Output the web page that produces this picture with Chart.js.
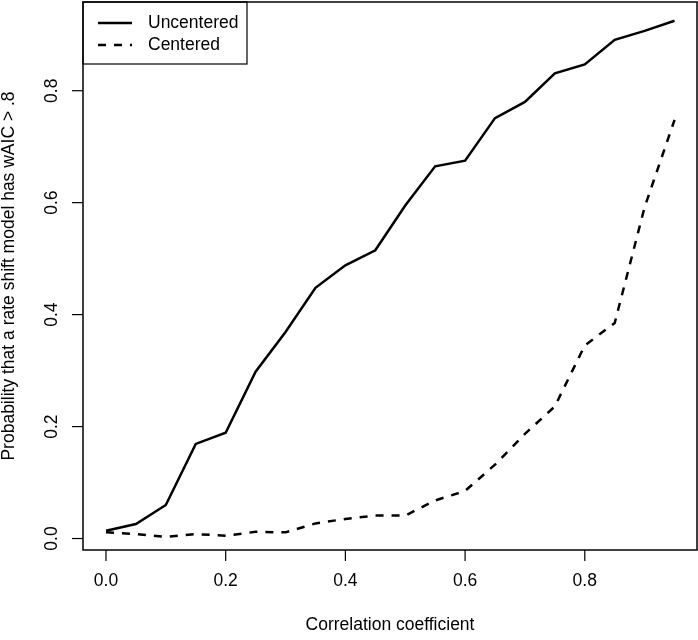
<!DOCTYPE html>
<html>
<head>
<meta charset="utf-8">
<script src="https://cdn.jsdelivr.net/npm/chart.js@4/dist/chart.umd.min.js"></script>
<style>
  html, body { margin: 0; padding: 0; background: #fff; }
  #wrap { width: 698px; height: 640px; position: relative; }
</style>
</head>
<body>
<div id="wrap"><canvas id="chart"></canvas></div>
<script>
(() => {
  'use strict';

  // Correlation coefficient (x) and the two probability series
  const corr = [0.00, 0.05, 0.10, 0.15, 0.20, 0.25, 0.30, 0.35, 0.40, 0.45,
                0.50, 0.55, 0.60, 0.65, 0.70, 0.75, 0.80, 0.85, 0.90, 0.95];
  const uncentered = [0.014, 0.026, 0.060, 0.169, 0.189, 0.298, 0.369, 0.448, 0.488, 0.515,
                      0.595, 0.665, 0.675, 0.751, 0.780, 0.831, 0.847, 0.891, 0.907, 0.925];
  const centered   = [0.011, 0.008, 0.003, 0.008, 0.005, 0.012, 0.011, 0.027, 0.035, 0.041,
                      0.041, 0.068, 0.085, 0.132, 0.187, 0.236, 0.345, 0.385, 0.592, 0.748];

  const xTicks = [0, 0.2, 0.4, 0.6, 0.8];
  const yTicks = [0, 0.2, 0.4, 0.6, 0.8];
  const seriesNames = ['Uncentered', 'Centered'];

  const FONT = '17.5px "Liberation Sans", Arial, Helvetica, sans-serif';

  const toPts = (ys) => corr.map((x, i) => ({ x, y: ys[i] }));

  // R-style frame, ticks, labels and legend
  const rAxes = {
    id: 'rAxes',
    afterDraw(chart) {
      const { ctx, chartArea: a, scales: { x, y } } = chart;
      ctx.save();
      ctx.strokeStyle = '#000';
      ctx.fillStyle = '#000';
      ctx.font = FONT;

      // box
      ctx.lineWidth = 1.5;
      ctx.strokeRect(a.left, a.top, a.right - a.left, a.bottom - a.top);

      // x ticks
      ctx.lineWidth = 1.2;
      ctx.textAlign = 'center';
      ctx.textBaseline = 'middle';
      xTicks.forEach(v => {
        const px = x.getPixelForValue(v);
        ctx.beginPath();
        ctx.moveTo(px, a.bottom);
        ctx.lineTo(px, a.bottom + 11);
        ctx.stroke();
        ctx.fillText(v.toFixed(1), px, a.bottom + 31);
      });

      // y ticks (labels rotated like R's las = 0)
      yTicks.forEach(v => {
        const py = y.getPixelForValue(v);
        ctx.beginPath();
        ctx.moveTo(a.left, py);
        ctx.lineTo(a.left - 11, py);
        ctx.stroke();
        ctx.save();
        ctx.translate(a.left - 31, py);
        ctx.rotate(-Math.PI / 2);
        ctx.fillText(v.toFixed(1), 0, 0);
        ctx.restore();
      });

      // axis titles
      ctx.fillText('Correlation coefficient', (a.left + a.right) / 2, a.bottom + 75);
      ctx.save();
      ctx.translate(a.left - 74, (a.top + a.bottom) / 2);
      ctx.rotate(-Math.PI / 2);
      ctx.fillText('Probability that a rate shift model has wAIC > .8', 0, 0);
      ctx.restore();

      // legend
      const lx = a.left, ly = a.top, lw = 164, lh = 62;
      ctx.lineWidth = 1.2;
      ctx.strokeRect(lx, ly, lw, lh);
      const rows = [ly + 21, ly + 43];
      ctx.textAlign = 'left';
      ctx.lineWidth = 2.5;
      rows.forEach((ry, i) => {
        ctx.setLineDash(i === 0 ? [] : [8, 8]);
        ctx.beginPath();
        ctx.moveTo(lx + 15, ry);
        ctx.lineTo(lx + 49, ry);
        ctx.stroke();
        ctx.setLineDash([]);
        ctx.fillText(seriesNames[i], lx + 65, ry);
      });

      ctx.restore();
    }
  };

  new Chart(document.getElementById('chart').getContext('2d'), {
    type: 'line',
    data: {
      datasets: [
        {
          label: seriesNames[0],
          data: toPts(uncentered),
          borderColor: '#000',
          borderWidth: 2.5,
          pointRadius: 0,
          tension: 0,
          fill: false
        },
        {
          label: seriesNames[1],
          data: toPts(centered),
          borderColor: '#000',
          borderWidth: 2.5,
          borderDash: [8, 8],
          pointRadius: 0,
          tension: 0,
          fill: false
        }
      ]
    },
    options: {
      responsive: true,
      maintainAspectRatio: false,
      animation: false,
      layout: { padding: { left: 83, right: 1, top: 2, bottom: 90 } },
      scales: {
        x: { type: 'linear', min: -0.0384, max: 0.9875, display: false },
        y: { type: 'linear', min: -0.0205, max: 0.9585, display: false }
      },
      plugins: {
        legend: { display: false },
        tooltip: { enabled: false }
      }
    },
    plugins: [rAxes]
  });
})();
</script>
</body>
</html>
